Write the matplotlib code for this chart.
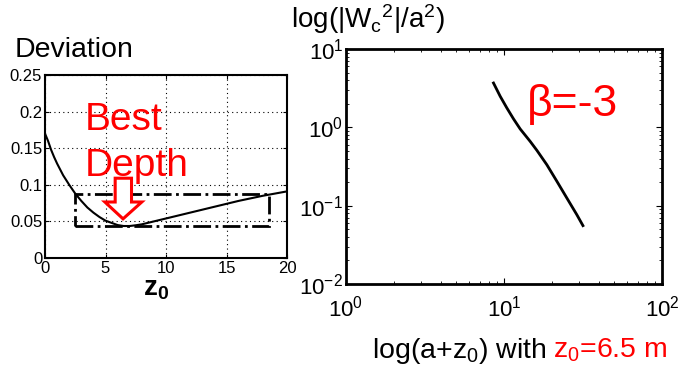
import matplotlib
matplotlib.use("Agg")
import matplotlib.pyplot as plt
from matplotlib.patches import Polygon, Rectangle
from matplotlib.ticker import LogLocator, NullFormatter

plt.rcParams["font.family"] = ["Liberation Sans", "DejaVu Sans"]
plt.rcParams["mathtext.fontset"] = "custom"
plt.rcParams["mathtext.rm"] = "Liberation Sans"
plt.rcParams["mathtext.it"] = "Liberation Sans:italic"
plt.rcParams["mathtext.bf"] = "Liberation Sans:bold"
plt.rcParams["axes.unicode_minus"] = False

# 左: 偏差 vs z0
z0 = [0, 0.25, 0.5, 0.75, 1, 1.5, 2, 2.5, 3, 3.5, 4, 4.5, 5, 5.5, 6, 6.5, 7,
      7.5, 8, 9, 10, 12, 14, 16, 18, 20]
deviation = [0.170, 0.160, 0.148, 0.138, 0.129, 0.113, 0.100, 0.088, 0.078,
             0.069, 0.062, 0.056, 0.051, 0.048, 0.045, 0.0437, 0.0437, 0.0447,
             0.046, 0.050, 0.054, 0.062, 0.070, 0.078, 0.085, 0.091]
box_x = [2.5, 18.5]
box_y = [0.044, 0.087]
best_z0 = 6.45

# 右: |Wc^2|/a^2 vs a+z0
a_z0 = [8.58, 9.46, 10.42, 11.49, 12.66, 14.64, 16.15, 18.67, 21.6, 25.0, 28.9, 31.6]
wc2 = [3.68, 2.49, 1.77, 1.28, 0.953, 0.662, 0.508, 0.333, 0.205, 0.125, 0.0767, 0.0556]

fig = plt.figure(figsize=(6.81, 3.68), dpi=100)

ax1 = fig.add_axes([45 / 681, 110 / 368, 242 / 681, 183 / 368])
ax1.plot(z0, deviation, color="black", lw=1.5)
ax1.add_patch(Rectangle((box_x[0], box_y[0]), box_x[1] - box_x[0], box_y[1] - box_y[0],
                        fill=False, ls="-.", lw=2, ec="black", zorder=3))
arrow = [(5.8, 0.109), (7.15, 0.109), (7.15, 0.0765), (8.0, 0.0765),
         (best_z0, 0.0535), (4.95, 0.0765), (5.8, 0.0765)]
ax1.add_patch(Polygon(arrow, closed=True, fc="white", ec="red", lw=2.2, zorder=4))
ax1.text(3.3, 0.175, "Best", color="red", fontsize=28, va="baseline")
ax1.text(3.3, 0.112, "Depth", color="red", fontsize=28, va="baseline")
ax1.set_xlim(0, 20)
ax1.set_ylim(0, 0.25)
ax1.set_xticks([0, 5, 10, 15, 20])
ax1.set_yticks([0, 0.05, 0.1, 0.15, 0.2, 0.25])
ax1.set_yticklabels(["0", "0.05", "0.1", "0.15", "0.2", "0.25"])
ax1.grid(True, color="black", ls=(0, (1, 3)), lw=0.8)
ax1.tick_params(direction="in", length=3, labelsize=12, pad=2, top=True, right=True)
for sp in ax1.spines.values():
    sp.set_linewidth(1.5)
ax1.set_xlabel(r"$\mathbf{z_0}$", fontsize=20)
ax1.xaxis.set_label_coords(0.46, -0.1, transform=ax1.transAxes)
ax1.xaxis.label.set_va("top")
fig.text(15 / 681, 1 - 57 / 368, "Deviation", fontsize=20.5, va="baseline")

ax2 = fig.add_axes([346 / 681, 84 / 368, 316 / 681, 235 / 368])
ax2.plot(a_z0, wc2, color="black", lw=2)
ax2.set_xscale("log")
ax2.set_yscale("log")
ax2.set_xlim(1, 100)
ax2.set_ylim(0.01, 10)
ax2.xaxis.set_minor_locator(LogLocator(subs=range(2, 10)))
ax2.yaxis.set_minor_locator(LogLocator(subs=range(2, 10)))
ax2.xaxis.set_minor_formatter(NullFormatter())
ax2.yaxis.set_minor_formatter(NullFormatter())
ax2.tick_params(which="both", direction="in", top=True, right=True, labelsize=16)
ax2.tick_params(which="major", length=4)
ax2.tick_params(which="minor", length=2)
ax2.tick_params(axis="x", pad=8)
ax2.tick_params(axis="y", pad=2)
for sp in ax2.spines.values():
    sp.set_linewidth(2)
ax2.text(27, 1.93, "β=-3", color="red", fontsize=32, ha="center", va="center")

fig.text(291 / 681, 1 - 28 / 368,
         r"log(|W$_\mathregular{c}$$^\mathregular{2}$|/a$^\mathregular{2}$)",
         fontsize=20, va="baseline")

t1 = fig.text(372 / 681, 10 / 368, r"log(a+z$_\mathregular{0}$) with", fontsize=20.5,
              va="baseline")
fig.canvas.draw()
bb = t1.get_window_extent()
fig.text((bb.x1 + 6) / fig.bbox.width, 10 / 368, r"z$_\mathregular{0}$=6.5 m", color="red",
         fontsize=20.5, va="baseline")

fig.savefig("out.png", dpi=100)
